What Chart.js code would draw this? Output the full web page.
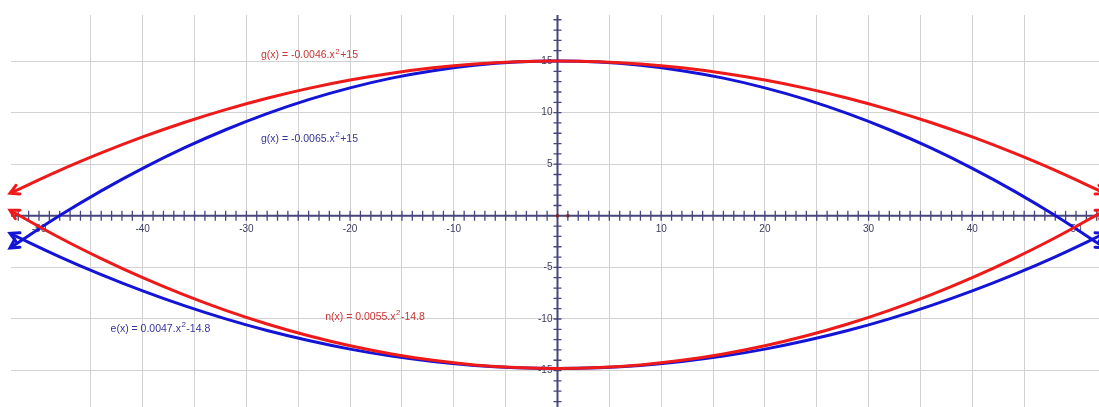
<!DOCTYPE html>
<html>
<head>
<meta charset="utf-8">
<title>Parabolas</title>
<script src="https://cdn.jsdelivr.net/npm/chart.js@4.4.1/dist/chart.umd.min.js"></script>
<style>
  html, body { margin: 0; padding: 0; background: #fff; }
  #wrap { width: 1099px; height: 407px; }
</style>
</head>
<body>
<div id="wrap"><canvas id="chart"></canvas></div>
<script>
const xs = [-52.8, -48, -44, -40, -36, -32, -28, -24, -20, -16, -12, -8, -4, 0,
            4, 8, 12, 16, 20, 24, 28, 32, 36, 40, 44, 48, 52.8];

// red upper curve  g(x) = -0.0046.x²+15
const redTop = [2.18, 4.40, 6.09, 7.64, 9.04, 10.29, 11.39, 12.35, 13.16, 13.82, 14.34, 14.71, 14.93, 15,
                14.93, 14.71, 14.34, 13.82, 13.16, 12.35, 11.39, 10.29, 9.04, 7.64, 6.09, 4.40, 2.18];
// blue upper curve  g(x) = -0.0065.x²+15
const blueTop = [-3.12, 0.02, 2.42, 4.6, 6.58, 8.34, 9.90, 11.26, 12.4, 13.34, 14.06, 14.58, 14.9, 15,
                 14.9, 14.58, 14.06, 13.34, 12.4, 11.26, 9.90, 8.34, 6.58, 4.6, 2.42, 0.02, -3.12];
// red lower curve  n(x) = 0.0055.x²-14.8
const redBottom = [0.53, -2.13, -4.15, -6.0, -7.67, -9.17, -10.49, -11.63, -12.6, -13.39, -14.01, -14.45, -14.71, -14.8,
                   -14.71, -14.45, -14.01, -13.39, -12.6, -11.63, -10.49, -9.17, -7.67, -6.0, -4.15, -2.13, 0.53];
// blue lower curve  e(x) = 0.0047.x²-14.8
const blueBottom = [-1.7, -3.97, -5.7, -7.28, -8.71, -9.99, -11.12, -12.09, -12.92, -13.6, -14.12, -14.5, -14.72, -14.8,
                    -14.72, -14.5, -14.12, -13.6, -12.92, -12.09, -11.12, -9.99, -8.71, -7.28, -5.7, -3.97, -1.7];

const originDots = [{ x: 0, y: 0 }, { x: 1, y: 0 }];

const xTickLabels = [-50, -40, -30, -20, -10, 10, 20, 30, 40, 50];
const yTickLabels = [15, 10, 5, -5, -10, -15];

const curveLabels = ['g(x) = -0.0046.x²+15', 'g(x) = -0.0065.x²+15', 'n(x) = 0.0055.x²-14.8', 'e(x) = 0.0047.x²-14.8'];

const RED = '#ee1a1a';
const BLUE = '#1414d6';
const AXIS = '#46467c';

const toPoints = ys => xs.map((x, i) => ({ x: x, y: ys[i] }));

// grid only on multiples of 5
const gridColor = c => (c.tick && Math.abs(c.tick.value % 5) < 1e-9) ? '#d2d2d2' : 'rgba(0,0,0,0)';

// middle axes with a tick every unit
const axesPlugin = {
    id: 'axes',
    beforeDatasetsDraw(chart) {
        const { ctx, chartArea, scales: { x, y } } = chart;
        const x0 = x.getPixelForValue(0);
        const y0 = y.getPixelForValue(0);
        ctx.save();
        ctx.strokeStyle = AXIS;
        ctx.lineWidth = 2;
        ctx.beginPath();
        ctx.moveTo(chartArea.left, y0);
        ctx.lineTo(chartArea.right, y0);
        ctx.moveTo(x0, chartArea.top);
        ctx.lineTo(x0, chartArea.bottom);
        ctx.stroke();

        ctx.lineWidth = 1.3;
        ctx.beginPath();
        for (let v = Math.ceil(x.min); v <= x.max; v++) {
            if (v === 0) continue;
            const px = x.getPixelForValue(v);
            ctx.moveTo(px, y0 - 5);
            ctx.lineTo(px, y0 + 5);
        }
        for (let v = Math.ceil(y.min); v <= y.max; v++) {
            if (v === 0) continue;
            const py = y.getPixelForValue(v);
            ctx.moveTo(x0 - 4, py);
            ctx.lineTo(x0 + 4, py);
        }
        ctx.stroke();

        ctx.fillStyle = '#3c3c5c';
        ctx.font = '10px "Liberation Sans", Arial, sans-serif';
        ctx.textBaseline = 'middle';
        ctx.textAlign = 'center';
        xTickLabels.forEach(v => ctx.fillText(String(v), x.getPixelForValue(v), y0 + 13));
        ctx.textAlign = 'right';
        yTickLabels.forEach(v => ctx.fillText(String(v), x0 - 5, y.getPixelForValue(v)));
        ctx.restore();
    }
};

// open arrow heads at both ends of each curve
const arrowPlugin = {
    id: 'arrows',
    afterDatasetsDraw(chart) {
        const ctx = chart.ctx;
        ctx.save();
        ctx.lineWidth = 3;
        ctx.lineCap = 'round';
        for (let i = 0; i < 4; i++) {
            const meta = chart.getDatasetMeta(i);
            const pts = meta.data;
            ctx.strokeStyle = chart.data.datasets[i].borderColor;
            [[pts[0], pts[1]], [pts[pts.length - 1], pts[pts.length - 2]]].forEach(([tip, prev]) => {
                const a = Math.atan2(tip.y - prev.y, tip.x - prev.x);
                const len = 10, spread = 0.5;
                ctx.beginPath();
                ctx.moveTo(tip.x - len * Math.cos(a - spread), tip.y - len * Math.sin(a - spread));
                ctx.lineTo(tip.x, tip.y);
                ctx.lineTo(tip.x - len * Math.cos(a + spread), tip.y - len * Math.sin(a + spread));
                ctx.stroke();
            });
        }
        ctx.restore();
    }
};

// curve captions with a raised exponent
const captionPlugin = {
    id: 'captions',
    afterDatasetsDraw(chart) {
        const { ctx, scales: { x, y } } = chart;
        const spots = [
            { x: -28.6, y: 15.55, color: '#cc3434' },
            { x: -28.6, y: 7.45, color: '#34349e' },
            { x: -22.4, y: -9.8, color: '#cc3434' },
            { x: -43.1, y: -10.95, color: '#34349e' }
        ];
        ctx.save();
        ctx.textBaseline = 'middle';
        ctx.textAlign = 'left';
        curveLabels.forEach((text, i) => {
            const s = spots[i];
            const parts = text.split('²');
            let px = x.getPixelForValue(s.x);
            const py = y.getPixelForValue(s.y);
            ctx.fillStyle = s.color;
            ctx.font = '10.5px "Liberation Sans", Arial, sans-serif';
            ctx.fillText(parts[0], px, py);
            px += ctx.measureText(parts[0]).width + 0.5;
            ctx.font = '8px "Liberation Sans", Arial, sans-serif';
            ctx.fillText('2', px, py - 4);
            px += ctx.measureText('2').width + 0.5;
            ctx.font = '10.5px "Liberation Sans", Arial, sans-serif';
            ctx.fillText(parts[1], px, py);
        });
        ctx.restore();
    }
};

const lineStyle = color => ({
    borderColor: color,
    borderWidth: 3,
    pointRadius: 0,
    tension: 0.4,
    fill: false
});

new Chart(document.getElementById('chart'), {
    type: 'line',
    data: {
        datasets: [
            { label: curveLabels[0], data: toPoints(redTop), ...lineStyle(RED) },
            { label: curveLabels[2], data: toPoints(redBottom), ...lineStyle(RED) },
            { label: curveLabels[1], data: toPoints(blueTop), ...lineStyle(BLUE) },
            { label: curveLabels[3], data: toPoints(blueBottom), ...lineStyle(BLUE) },
            { label: 'origin', type: 'scatter', data: originDots, pointStyle: 'rect',
              pointRadius: 2, backgroundColor: '#7a1f1f', borderColor: '#7a1f1f', borderWidth: 0 }
        ]
    },
    options: {
        responsive: true,
        maintainAspectRatio: false,
        animation: false,
        layout: { autoPadding: false, padding: { left: 11, top: 15, right: 0, bottom: 0 } },
        plugins: { legend: { display: false }, tooltip: { enabled: false } },
        scales: {
            x: {
                type: 'linear',
                min: -52.7,
                max: 52.22,
                afterFit: s => { s.height = 0; },
                ticks: { display: false, stepSize: 5 },
                grid: { color: gridColor, drawTicks: false, lineWidth: 1 },
                border: { display: false }
            },
            y: {
                type: 'linear',
                min: -18.53,
                max: 19.46,
                afterFit: s => { s.width = 0; },
                ticks: { display: false, stepSize: 5 },
                grid: { color: gridColor, drawTicks: false, lineWidth: 1 },
                border: { display: false }
            }
        }
    },
    plugins: [axesPlugin, arrowPlugin, captionPlugin]
});
</script>
</body>
</html>
